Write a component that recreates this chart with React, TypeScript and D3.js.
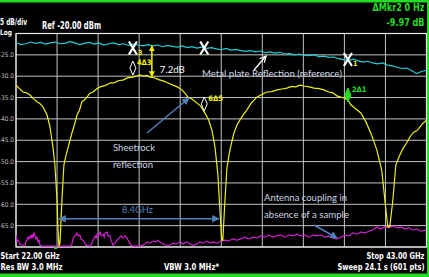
import React from 'react';
import * as d3 from 'd3';

const W = 429;
const H = 277;

// sweep settings
const startGHz = 22;
const stopGHz = 43;
const refDb = -20;
const bottomDb = -70;
const xDivs = 10;
const yTickDb = [-25, -30, -35, -40, -45, -50, -55, -60, -65];
const yTickLabels = ['-25.0', '-30.0', '-35.0', '-40.0', '-45.0', '-50.0', '-55.0', '-60.0', '-65.0'];

// metal plate reflection (reference), one value every 0.25 GHz
const cyanDb = [
  -22.1, -22.6, -22.4, -22.0, -22.3, -22.1, -22.5, -22.2, -22.0, -22.4, -22.3, -21.9,
  -22.2, -22.6, -22.3, -22.1, -22.5, -22.2, -22.7, -22.4, -22.2, -22.6, -22.4, -22.8,
  -22.5, -22.7, -22.9, -22.6, -22.9, -22.7, -23.1, -22.8, -23.0, -23.2, -22.9, -23.3,
  -23.1, -23.4, -23.2, -23.5, -23.3, -23.6, -23.8, -23.5, -23.9, -23.7, -24.0, -24.2,
  -24.0, -24.3, -24.1, -24.5, -24.3, -24.6, -24.4, -24.8, -24.7, -25.0, -24.8, -25.1,
  -25.2, -25.0, -25.4, -25.3, -25.6, -25.5, -25.9, -26.1, -26.3, -26.0, -26.4, -26.7,
  -26.5, -26.9, -27.1, -26.9, -27.4, -27.6, -27.9, -28.2, -28.1, -28.7, -29.4, -28.9, -28.6,
];

// sheetrock reflection [GHz, dBm]
const yellowTrace: [number, number][] = [
  [22.00, -32.1], [22.18, -32.9], [22.36, -33.7], [22.54, -33.9], [22.72, -34.4], [22.90, -35.3],
  [23.07, -36.0], [23.22, -36.4], [23.38, -37.2], [23.59, -39.1], [23.74, -41.9], [23.89, -46.6],
  [23.99, -50.8], [24.10, -59.0], [24.15, -66.0], [24.20, -69.8], [24.25, -69.1], [24.35, -59.0],
  [24.45, -50.8], [24.56, -48.5], [24.66, -46.8], [24.86, -43.3], [25.00, -41.2], [25.12, -39.1],
  [25.25, -37.9], [25.37, -36.0], [25.50, -35.6], [25.63, -34.9], [25.78, -34.0], [25.94, -33.7],
  [26.12, -33.0], [26.30, -32.5], [26.55, -32.2], [26.81, -31.6], [27.05, -31.5], [27.25, -31.0],
  [27.47, -30.9], [27.70, -30.4], [27.98, -30.2], [28.15, -30.0], [28.34, -29.7], [28.55, -30.0],
  [28.70, -29.8], [28.85, -30.2], [29.05, -30.3], [29.30, -30.8], [29.52, -31.1], [29.78, -31.6],
  [30.03, -32.1], [30.25, -32.5], [30.49, -33.2], [30.65, -34.0], [30.79, -34.9], [31.02, -35.4],
  [31.26, -36.3], [31.45, -37.0], [31.66, -38.6], [31.85, -40.2], [32.02, -42.6], [32.18, -46.6],
  [32.33, -53.1], [32.43, -61.3], [32.53, -68.4], [32.58, -68.4], [32.69, -59.0], [32.79, -51.5],
  [32.94, -47.3], [33.15, -43.3], [33.30, -41.5], [33.45, -40.3], [33.63, -39.0], [33.81, -37.9],
  [34.05, -36.2], [34.32, -34.9], [34.58, -34.3], [34.83, -33.7], [35.10, -33.6], [35.35, -33.2],
  [35.60, -33.0], [35.86, -32.8], [36.10, -32.4], [36.32, -32.5], [36.52, -32.1], [36.73, -32.3],
  [37.00, -32.5], [37.24, -32.8], [37.50, -32.9], [37.75, -33.2], [38.00, -33.7], [38.21, -33.9],
  [38.42, -34.6], [38.62, -34.9], [38.80, -35.1], [38.98, -35.6], [39.13, -36.7], [39.39, -37.7],
  [39.64, -38.6], [39.90, -40.7], [40.15, -43.3], [40.30, -45.2], [40.46, -47.3], [40.71, -52.0],
  [40.87, -59.0], [41.02, -65.3], [41.12, -65.3], [41.28, -59.0], [41.43, -50.8], [41.63, -48.5],
  [41.80, -46.9], [41.99, -45.6], [42.18, -44.0], [42.35, -43.1], [42.50, -42.8], [42.66, -41.9],
  [42.82, -41.0], [43.00, -40.3],
];

// antenna coupling without sample [GHz, dBm]
const magentaTrace: [number, number][] = [
  [22.00, -67.2], [22.05, -68.6], [22.10, -68.4], [22.20, -69.3], [22.31, -69.6], [22.46, -69.6],
  [22.51, -68.6], [22.56, -68.4], [22.61, -67.7], [22.66, -68.1], [22.72, -67.4], [22.77, -67.9],
  [22.82, -67.0], [22.87, -67.9], [22.92, -66.7], [22.97, -67.2], [23.02, -68.1], [23.07, -67.7],
  [23.12, -68.8], [23.18, -68.4], [23.23, -69.6], [23.33, -69.8], [23.74, -69.8], [24.25, -69.8],
  [24.76, -69.8], [24.86, -69.3], [24.92, -67.9], [25.02, -67.4], [25.12, -66.7], [25.17, -67.4],
  [25.27, -67.2], [25.32, -68.1], [25.43, -68.4], [25.53, -69.1], [25.58, -69.6], [25.79, -69.8],
  [25.89, -69.1], [25.94, -68.4], [26.05, -67.4], [26.10, -67.9], [26.15, -67.0], [26.20, -67.4],
  [26.30, -66.5], [26.35, -67.4], [26.46, -67.0], [26.51, -67.7], [26.56, -66.7], [26.66, -66.5],
  [26.71, -67.4], [26.81, -67.4], [26.86, -68.4], [26.96, -69.6], [27.06, -69.1], [27.17, -68.4],
  [27.27, -67.9], [27.37, -67.4], [27.47, -67.9], [27.58, -67.4], [27.68, -67.9], [27.78, -68.8],
  [27.88, -69.6], [27.98, -69.8], [28.34, -69.8], [28.60, -69.3], [28.70, -68.8], [28.85, -69.1],
  [29.01, -68.6], [29.16, -68.8], [29.26, -68.4], [29.36, -68.8], [29.52, -69.3], [29.67, -69.6],
  [29.87, -69.6], [30.03, -69.1], [30.18, -69.3], [30.39, -68.8], [30.54, -69.3], [30.74, -68.8],
  [30.90, -69.3], [31.05, -69.6], [31.26, -69.3], [31.41, -68.8], [31.56, -69.1], [31.77, -68.6],
  [31.92, -69.1], [32.07, -68.8], [32.28, -69.1], [32.48, -68.6], [32.69, -68.4], [32.89, -68.6],
  [33.10, -68.1], [33.30, -68.4], [33.50, -68.1], [33.71, -67.7], [33.91, -68.1], [34.12, -67.7],
  [34.32, -67.9], [34.53, -67.4], [34.73, -67.7], [34.94, -67.2], [35.14, -67.7], [35.35, -67.4],
  [35.55, -67.2], [35.75, -67.7], [35.96, -67.2], [36.16, -67.4], [36.37, -67.0], [36.57, -67.4],
  [36.78, -67.2], [36.98, -67.7], [37.19, -67.2], [37.39, -67.4], [37.60, -67.2], [37.80, -67.7],
  [38.00, -67.4], [38.21, -67.9], [38.41, -68.1], [38.62, -67.7], [38.83, -67.2], [39.03, -67.4],
  [39.23, -66.7], [39.44, -67.0], [39.64, -66.5], [39.85, -66.7], [40.05, -66.3], [40.25, -66.0],
  [40.46, -65.3], [40.66, -65.8], [40.87, -65.3], [41.07, -65.5], [41.28, -65.1], [41.48, -65.5],
  [41.69, -65.3], [41.89, -65.8], [42.10, -65.5], [42.30, -66.0], [42.51, -65.8], [42.71, -66.3],
  [42.97, -66.0],
];

// markers: [GHz, dBm]
const xMarkers: [number, number, string][] = [
  [27.98, -23.4, '3'],
  [31.63, -23.4, ''],
  [38.98, -26.1, '1'],
];
const diamondMarkers: [number, number, string, string][] = [
  [27.98, -28.1, '4Δ3', 'white'],
  [31.63, -36.5, '6Δ5', 'white'],
  [38.98, -34.4, '2Δ1', 'green'],
];
const deltaArrow = { ghz: 28.95, fromDb: -22.9, toDb: -30.1, label: '7.2dB' };
const spacingArrow = { fromGHz: 24.2, toGHz: 32.38, db: -63.4, label: '8.4GHz' };

const x = d3.scaleLinear().domain([startGHz, stopGHz]).range([16, 426.5]);
const y = d3.scaleLinear().domain([bottomDb, refDb]).range([247, 33.5]);

const cyanTrace: [number, number][] = cyanDb.map((v, i) => [startGHz + i * 0.25, v]);
const line = d3.line<[number, number]>().x(d => x(d[0])).y(d => y(d[1]));

const hdr = "'Liberation Sans Narrow', 'Arial Narrow', 'DejaVu Sans Condensed', sans-serif";
const note = "Lato, 'Open Sans', sans-serif";
const green = '#22dd22';
const blue = '#4f81bd';
const noteFill = '#cdd6e4';
const rightEdge = 424.5;

// squeezed bold status text, right end at `right`
function Squeezed({ right, baseline, width, sx, children, fill = 'white' }: any) {
  return (
    <g transform={`translate(${right - width},${baseline}) scale(${sx},1)`}>
      <text x={0} y={0} fontSize={9.5} fontWeight="bold" fill={fill} fontFamily={hdr} textLength={width / sx} lengthAdjust="spacingAndGlyphs">
        {children}
      </text>
    </g>
  );
}

export default function App() {
  const xGrid = d3.range(xDivs + 1).map(i => startGHz + (i * (stopGHz - startGHz)) / xDivs);
  const yGrid = d3.range(bottomDb, refDb + 1, 5);
  const [x0, x1] = x.range();
  const [y0, y1] = y.range();

  return (
    <svg width={W} height={H} style={{ position: 'absolute', left: 0, top: 0, background: '#000' }}>
      <defs>
        <clipPath id="plot">
          <rect x={x0} y={y1} width={x1 - x0} height={y0 - y1} />
        </clipPath>
        <marker id="ab" viewBox="0 0 10 10" refX="9" refY="5" markerWidth="5" markerHeight="5" orient="auto-start-reverse">
          <path d="M0,0 L10,5 L0,10 Z" fill={blue} />
        </marker>
        <marker id="ay" viewBox="0 0 10 10" refX="9" refY="5" markerWidth="4" markerHeight="4" orient="auto-start-reverse">
          <path d="M0,0 L10,5 L0,10 Z" fill="#f0f000" />
        </marker>
        <marker id="aw" viewBox="0 0 10 10" refX="9" refY="5" markerWidth="6" markerHeight="6" orient="auto">
          <path d="M1,1 L9,5 L1,9" fill="none" stroke="white" strokeWidth="1.6" />
        </marker>
      </defs>
      <rect width={W} height={H} fill="#000" />

      {/* frame */}
      <rect x={0} y={0} width={W} height={2.5} fill={green} />
      <rect x={427} y={0} width={2} height={H} fill={green} />
      <rect x={0} y={273.5} width={W} height={3.5} fill={green} />

      {/* grid */}
      {xGrid.map((g, i) => (
        <line key={'vx' + i} x1={x(g)} x2={x(g)} y1={y0} y2={y1} stroke="#c4c4c4" strokeWidth={1} />
      ))}
      {yGrid.map((g, i) => (
        <line key={'hy' + i} x1={x0} x2={x1} y1={y(g)} y2={y(g)} stroke="#c4c4c4" strokeWidth={1} />
      ))}
      <rect x={x0} y={y1} width={x1 - x0} height={y0 - y1} fill="none" stroke="#e8e8e8" strokeWidth={1.2} />
      {yTickDb.map((v, i) => (
        <text key={'yl' + i} x={14} y={y(v) + 2.2} textAnchor="end" fontSize={6.5} fill="#bdbdbd" fontFamily={hdr}>
          {yTickLabels[i]}
        </text>
      ))}
      <rect x={x(24.0) - 1} y={y0} width={3} height={2} fill={green} />

      {/* header */}
      <text x={0} y={25} fontSize={8.5} fontWeight="bold" fill="white" fontFamily={hdr} textLength={27} lengthAdjust="spacingAndGlyphs">5 dB/div</text>
      <text x={0} y={35} fontSize={7.5} fontWeight="bold" fill="white" fontFamily={hdr} textLength={12} lengthAdjust="spacingAndGlyphs">Log</text>
      <text x={42} y={28.5} fontSize={10} fontWeight="bold" fill="white" fontFamily={hdr} textLength={59} lengthAdjust="spacingAndGlyphs">Ref -20.00 dBm</text>
      <text x={rightEdge - 52} y={10.5} fontSize={10} fontWeight="bold" fill={green} fontFamily={hdr} textLength={52} lengthAdjust="spacingAndGlyphs">ΔMkr2 0 Hz</text>
      <text x={rightEdge - 38} y={25.5} fontSize={10} fontWeight="bold" fill={green} fontFamily={hdr} textLength={38} lengthAdjust="spacingAndGlyphs">-9.97 dB</text>

      {/* footer */}
      <text x={0.5} y={258.5} fontSize={9.5} fontWeight="bold" fill="white" fontFamily={hdr} textLength={59} lengthAdjust="spacingAndGlyphs">Start 22.00 GHz</text>
      <text x={0.5} y={269.5} fontSize={9.5} fontWeight="bold" fill="white" fontFamily={hdr} textLength={62} lengthAdjust="spacingAndGlyphs">Res BW 3.0 MHz</text>
      <text x={164} y={269.5} fontSize={9.5} fontWeight="bold" fill="white" fontFamily={hdr} textLength={55} lengthAdjust="spacingAndGlyphs">VBW 3.0 MHz*</text>
      <Squeezed right={rightEdge} baseline={258.5} width={58} sx={0.8}>Stop 43.00 GHz</Squeezed>
      <Squeezed right={rightEdge} baseline={269.5} width={87} sx={0.7}>Sweep  24.1 s (601 pts)</Squeezed>

      {/* traces */}
      <g clipPath="url(#plot)" fill="none">
        <path d={line(magentaTrace) || ''} stroke="#e01ee0" strokeWidth={1.1} />
        <path d={line(yellowTrace) || ''} stroke="#eeee10" strokeWidth={1.2} />
        <path d={line(cyanTrace) || ''} stroke="#22ccd6" strokeWidth={1.2} />
      </g>

      {/* markers */}
      {xMarkers.map(([f, v, lab], i) => (
        <g key={'xm' + i}>
          <path
            d={`M${x(f) - 4},${y(v) - 6.5} L${x(f) + 4},${y(v) + 6.5} M${x(f) + 4},${y(v) - 6.5} L${x(f) - 4},${y(v) + 6.5}`}
            stroke="white"
            strokeWidth={2.2}
          />
          {lab && (
            <text x={x(f) + 5} y={y(v) + 6.5} fontSize={7} fontWeight="bold" fill="#f0f000" fontFamily={hdr}>{lab}</text>
          )}
        </g>
      ))}
      {diamondMarkers.map(([f, v, lab, kind], i) => {
        const cx = x(f);
        const cy = y(v);
        const isGreen = kind === 'green';
        return (
          <g key={'dm' + i}>
            <path
              d={`M${cx},${cy - 7} L${cx + 3},${cy} L${cx},${cy + 7} L${cx - 3},${cy} Z`}
              fill={isGreen ? green : 'none'}
              stroke={isGreen ? green : 'white'}
              strokeWidth={1}
            />
            <text x={cx + 4} y={cy - 3} fontSize={7.5} fontWeight="bold" fill={isGreen ? green : '#f0f000'} fontFamily={hdr}>{lab}</text>
          </g>
        );
      })}

      {/* 7.2 dB delta */}
      <line x1={x(deltaArrow.ghz)} x2={x(deltaArrow.ghz)} y1={y(deltaArrow.fromDb)} y2={y(deltaArrow.toDb)} stroke="#f0f000" strokeWidth={1.5} markerStart="url(#ay)" markerEnd="url(#ay)" />
      <text x={x(deltaArrow.ghz) + 8} y={y(-28.5) + 3.5} fontSize={10} fill="white" fontFamily={note} textLength={25} lengthAdjust="spacingAndGlyphs">{deltaArrow.label}</text>

      {/* annotations */}
      <text x={202} y={76.5} fontSize={9.5} fill={noteFill} fontFamily={note} textLength={140} lengthAdjust="spacingAndGlyphs">Metal plate Reflection (reference)</text>
      <line x1={254} y1={70} x2={266} y2={56} stroke="white" strokeWidth={1.3} markerEnd="url(#aw)" />

      <text x={113} y={151} fontSize={9.5} fill={noteFill} fontFamily={note} textLength={42} lengthAdjust="spacingAndGlyphs">Sheetrock</text>
      <text x={113} y={167.5} fontSize={9.5} fill={noteFill} fontFamily={note} textLength={40} lengthAdjust="spacingAndGlyphs">reflection</text>
      <line x1={147} y1={133} x2={189} y2={98} stroke={blue} strokeWidth={1.5} markerEnd="url(#ab)" />

      <line x1={x(spacingArrow.fromGHz)} x2={x(spacingArrow.toGHz)} y1={y(spacingArrow.db)} y2={y(spacingArrow.db)} stroke={blue} strokeWidth={1.5} markerStart="url(#ab)" markerEnd="url(#ab)" />
      <text x={122} y={213} fontSize={10} fill={blue} fontFamily={note} textLength={31} lengthAdjust="spacingAndGlyphs">{spacingArrow.label}</text>

      <text x={264} y={201} fontSize={9.5} fill={noteFill} fontFamily={note} textLength={83} lengthAdjust="spacingAndGlyphs">Antenna coupling in</text>
      <text x={264} y={218} fontSize={9.5} fill={noteFill} fontFamily={note} textLength={85} lengthAdjust="spacingAndGlyphs">absence of a sample</text>
      <line x1={314} y1={225} x2={337} y2={238} stroke={blue} strokeWidth={1.5} markerEnd="url(#ab)" />
    </svg>
  );
}
